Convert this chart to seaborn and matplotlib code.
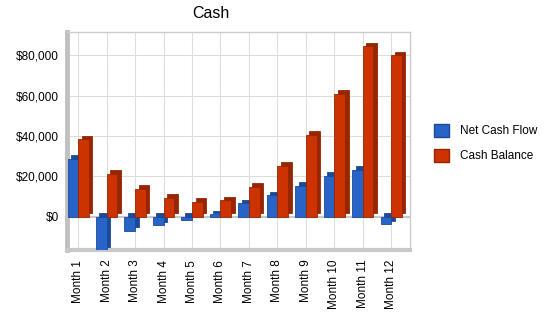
import matplotlib
matplotlib.use("Agg")
import matplotlib.pyplot as plt
import matplotlib.transforms as mtransforms
from matplotlib.patches import Rectangle
import seaborn as sns
import pandas as pd

# values
months = ["Month %d" % i for i in range(1, 13)]
net_cash_flow = [28600, -17300, -7100, -4300, -1800, 1100, 6600, 10500, 15400, 20300, 23300, -3800]
cash_balance = [38500, 21200, 13800, 9400, 7400, 8200, 14800, 25300, 40500, 60900, 84600, 80100]
series = ["Net Cash Flow", "Cash Balance"]
colors = ["#2864C8", "#CC3300"]
dark = ["#1B4A99", "#962600"]

df = pd.DataFrame({
    "month": months * 2,
    "value": net_cash_flow + cash_balance,
    "series": [series[0]] * 12 + [series[1]] * 12,
})

sns.set_style("white")
plt.rcParams["font.family"] = ["Liberation Sans", "DejaVu Sans"]
plt.rcParams["text.color"] = "black"
plt.rcParams["xtick.color"] = "black"
plt.rcParams["ytick.color"] = "black"

fig = plt.figure(figsize=(5.5, 3.18), dpi=100)
ax = fig.add_axes([0.122, 0.214, 0.623, 0.685])

sns.barplot(data=df, x="month", y="value", hue="series", palette=colors,
            saturation=1, width=0.75, ax=ax, legend=False, zorder=3)

# fake 3d depth: darker copy of every bar, pushed up and right
shift = mtransforms.offset_copy(ax.transData, fig=fig, x=3.5, y=3.5, units="dots")
bars = list(ax.patches)
for i, p in enumerate(bars):
    k = 0 if i < 12 else 1
    p.set_edgecolor(dark[k])
    p.set_linewidth(0.6)
    back = Rectangle(p.get_xy(), p.get_width(), p.get_height(), transform=shift,
                     facecolor=dark[k], edgecolor=dark[k], linewidth=0.6, zorder=2)
    ax.add_patch(back)

ax.set_ylim(-16500, 91500)
ax.set_xlim(-0.39, 11.65)
ax.set_yticks([0, 20000, 40000, 60000, 80000])
ax.set_yticklabels(["$%s" % format(v, ",") for v in [0, 20000, 40000, 60000, 80000]], fontsize=8.5)
ax.set_xticks(range(12))
ax.set_xticklabels(months, rotation=90, fontsize=8.5)
ax.set_xlabel("")
ax.set_ylabel("")

ax.grid(True, color="#DDDDDD", linewidth=0.8, zorder=0)
ax.set_axisbelow(True)
ax.axhline(0, color="#C8C8C8", linewidth=1.5, zorder=1)
ax.tick_params(axis="x", length=4, color="#BBBBBB", labelcolor="black", pad=3)
ax.tick_params(axis="y", length=0, labelcolor="black", pad=6)

for s in ["top", "right"]:
    ax.spines[s].set_color("#CCCCCC")
    ax.spines[s].set_linewidth(1)
ax.spines["left"].set_color("#C0C0C0")
ax.spines["left"].set_linewidth(3.5)
ax.spines["bottom"].set_color("#C8C8C8")
ax.spines["bottom"].set_linewidth(3)

ax.set_title("Cash", fontsize=11.5, x=0.42, pad=10, color="black")

handles = [Rectangle((0, 0), 1, 1, facecolor=colors[i], edgecolor=dark[i]) for i in range(2)]
fig.legend(handles, series, loc="center left", bbox_to_anchor=(0.77, 0.55),
           frameon=False, fontsize=8.5, handlelength=1.3, handleheight=1.3,
           labelspacing=1.0, handletextpad=0.9, labelcolor="black")

fig.savefig("out.png", dpi=100)
